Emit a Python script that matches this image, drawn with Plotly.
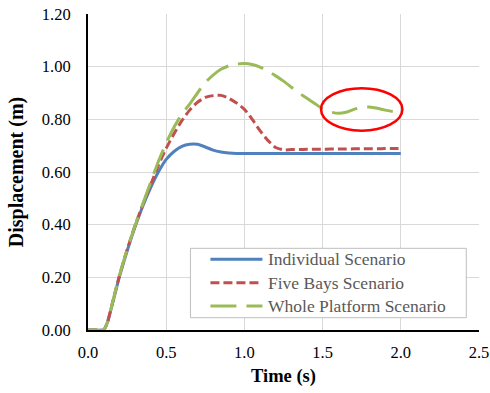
import plotly.graph_objects as go

# ---- data ----
time_s = [0.00, 0.05, 0.10, 0.125, 0.15, 0.20, 0.25, 0.30, 0.35, 0.40, 0.45, 0.50, 0.55, 0.60,
          0.65, 0.70, 0.75, 0.80, 0.85, 0.90, 0.95, 1.00, 1.05, 1.10, 1.15, 1.20, 1.25,
          1.30, 1.35, 1.40, 1.45, 1.50, 1.55, 1.60, 1.65, 1.70, 1.75, 1.80, 1.85, 1.90,
          1.95, 2.00]

individual = [0.000, 0.000, 0.000, 0.030, 0.085, 0.200, 0.300, 0.390, 0.470, 0.540, 0.600, 0.648,
              0.678, 0.697, 0.705, 0.705, 0.695, 0.683, 0.676, 0.672, 0.670, 0.670, 0.670,
              0.670, 0.670, 0.670, 0.670, 0.670, 0.670, 0.670, 0.670, 0.670, 0.670, 0.670,
              0.670, 0.670, 0.670, 0.670, 0.670, 0.670, 0.670, 0.670]

five_bays = [0.000, 0.000, 0.000, 0.030, 0.088, 0.205, 0.305, 0.395, 0.475, 0.550, 0.625, 0.690,
             0.745, 0.795, 0.835, 0.865, 0.883, 0.890, 0.891, 0.880, 0.862, 0.838, 0.800,
             0.757, 0.720, 0.693, 0.684, 0.685, 0.685, 0.686, 0.686, 0.686, 0.687, 0.687,
             0.687, 0.688, 0.688, 0.688, 0.688, 0.689, 0.689, 0.689]

whole_platform = [0.000, 0.000, 0.000, 0.030, 0.088, 0.205, 0.305, 0.395, 0.478, 0.560, 0.640, 0.710,
                  0.770, 0.820, 0.858, 0.900, 0.940, 0.968, 0.990, 1.003, 1.010, 1.012, 1.008,
                  0.998, 0.983, 0.965, 0.945, 0.922, 0.900, 0.880, 0.860, 0.840, 0.828, 0.823,
                  0.827, 0.838, 0.846, 0.847, 0.842, 0.835, 0.830, 0.829]

series_names = ["Individual Scenario", "Five Bays Scenario", "Whole Platform Scenario"]
series_values = [individual, five_bays, whole_platform]
series_colors = ["#4F81BD", "#C0504D", "#9BBB59"]
series_dash = ["solid", "9px,4px", "26px,10px"]

x_ticks = [0.0, 0.5, 1.0, 1.5, 2.0, 2.5]
y_ticks = [0.0, 0.2, 0.4, 0.6, 0.8, 1.0, 1.2]

# highlighted region (red ellipse)
ellipse_x = [1.49, 2.01]
ellipse_y = [0.757, 0.918]

SERIF = "Liberation Serif"

fig = go.Figure()
for name, vals, col, dash in zip(series_names, series_values, series_colors, series_dash):
    fig.add_trace(go.Scatter(
        x=time_s, y=vals, mode="lines", name=name, showlegend=False,
        line=dict(color=col, width=3, dash=dash, shape="spline", smoothing=0.6),
    ))

fig.add_shape(type="circle", xref="x", yref="y",
              x0=ellipse_x[0], x1=ellipse_x[1], y0=ellipse_y[0], y1=ellipse_y[1],
              line=dict(color="#FF0000", width=2.5))

# legend box with line samples and labels
lg_x0, lg_x1, lg_y0, lg_y1 = 0.262, 0.9675, 0.039, 0.2585
fig.add_shape(type="rect", xref="paper", yref="paper",
              x0=lg_x0, x1=lg_x1, y0=lg_y0, y1=lg_y1,
              line=dict(color="#BFBFBF", width=1), fillcolor="white", layer="above")
row_y = [0.2237, 0.1497, 0.0759]
for name, col, dash, ry in zip(series_names, series_colors, series_dash, row_y):
    fig.add_shape(type="line", xref="paper", yref="paper",
                  x0=0.3131, x1=0.4461, y0=ry, y1=ry,
                  line=dict(color=col, width=3, dash=dash), layer="above")
    fig.add_annotation(x=0.455, y=ry, xref="paper", yref="paper", text=name,
                       showarrow=False, xanchor="left", yanchor="middle",
                       font=dict(family=SERIF, size=17.5, color="#595959"))

fig.update_layout(
    width=490, height=393,
    margin=dict(l=87.5, r=11.3, t=14, b=63, autoexpand=False),
    paper_bgcolor="white", plot_bgcolor="white",
    font=dict(family=SERIF, color="#000000"),
)
fig.update_xaxes(
    range=[0, 2.5], tickvals=x_ticks, ticktext=[f"{v:.1f}" for v in x_ticks],
    showgrid=True, gridcolor="#D9D9D9", gridwidth=1,
    showline=True, linecolor="#000000", linewidth=2,
    zeroline=False, ticks="", ticklabelstandoff=6, automargin=False,
    tickfont=dict(family=SERIF, size=16.5, color="#000000"),
    title=dict(text="<b>Time (s)</b>", font=dict(family=SERIF, size=18.5, color="#000000"), standoff=8),
)
fig.update_yaxes(
    range=[0, 1.2], tickvals=y_ticks, ticktext=[f"{v:.2f}" for v in y_ticks],
    showgrid=True, gridcolor="#D9D9D9", gridwidth=1,
    showline=True, linecolor="#000000", linewidth=2,
    zeroline=False, ticks="", ticklabelstandoff=12, automargin=False,
    tickfont=dict(family=SERIF, size=16.5, color="#000000"),
    title=dict(text="<b>Displacement (m)</b>", font=dict(family=SERIF, size=20, color="#000000"), standoff=13),
)

fig.write_html("out.html")
